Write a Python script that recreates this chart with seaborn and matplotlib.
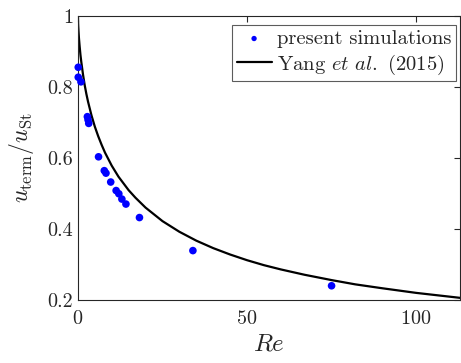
import numpy as np
import pandas as pd
import matplotlib
matplotlib.use("Agg")
import matplotlib.pyplot as plt
import seaborn as sns

# simulation points
sim_re = [0.1, 0.1, 0.9, 2.8, 3.0, 3.2, 6.1, 7.8, 8.3, 9.7, 11.3, 12.1, 13.0, 14.2, 18.2, 34.0, 75.0]
sim_u = [0.855, 0.827, 0.814, 0.716, 0.707, 0.697, 0.603, 0.564, 0.557, 0.532, 0.508, 0.499,
         0.484, 0.470, 0.432, 0.339, 0.240]

# Yang et al. (2015) curve, read at a set of Re values
yang_re = [0, 0.01, 0.05, 0.1, 0.2, 0.3, 0.5, 0.75, 1, 1.5, 2, 2.5, 3, 4, 5, 6, 7, 8, 10, 12,
           15, 17, 20, 25, 30, 35, 40, 45, 50, 55, 60, 67, 75, 82, 90, 100, 113]
yang_u = [1.0, 0.994, 0.981, 0.970, 0.953, 0.938, 0.915, 0.890, 0.870, 0.835, 0.805, 0.780,
          0.758, 0.720, 0.688, 0.661, 0.637, 0.615, 0.578, 0.547, 0.509, 0.488, 0.460, 0.422,
          0.392, 0.367, 0.346, 0.328, 0.312, 0.298, 0.286, 0.271, 0.256, 0.244, 0.233, 0.220,
          0.206]

sns.set_style("white")
plt.rcParams['font.family'] = 'serif'
plt.rcParams['font.serif'] = ['cmr10']
plt.rcParams['mathtext.fontset'] = 'cm'
plt.rcParams['axes.formatter.use_mathtext'] = True

sim = pd.DataFrame({'Re': sim_re, 'u': sim_u})
yang = pd.DataFrame({'Re': yang_re, 'u': yang_u})

fig = plt.figure(figsize=(4.61, 3.63), dpi=100)
ax = fig.add_axes([0.169, 0.1736, 0.829, 0.783])

sns.scatterplot(data=sim, x='Re', y='u', ax=ax, color=(0, 0, 1), s=30, edgecolor='none',
                label='present simulations', zorder=3, clip_on=False)
sns.lineplot(data=yang, x='Re', y='u', ax=ax, color='black', linewidth=1.6,
             label=r'Yang $\it{et\ al.}$ (2015)', zorder=2)

ax.set_xlim(0, 113)
ax.set_ylim(0.2, 1)
ax.set_xticks([0, 50, 100])
ax.set_yticks([0.2, 0.4, 0.6, 0.8, 1])
ax.set_yticklabels(['0.2', '0.4', '0.6', '0.8', '1'])
ax.set_xlabel(r'$Re$', fontsize=18, labelpad=4)
ax.set_ylabel(r'$u_\mathrm{term}/u_\mathrm{St}$', fontsize=17, labelpad=8)
ax.tick_params(direction='in', length=4, labelsize=14.5, top=True, right=True, color='0.15')
ax.tick_params(axis='x', pad=7)
for s in ax.spines.values():
    s.set_color('0.15')
    s.set_linewidth(0.8)

leg = ax.legend(loc='upper right', bbox_to_anchor=(455.7 / 461, 1 - 25 / 363),
                bbox_transform=fig.transFigure, borderaxespad=0,
                fontsize=14.8, frameon=True, fancybox=False,
                edgecolor='0.2', handlelength=1.7, markerscale=0.7,
                handletextpad=0.25, borderpad=0.22, labelspacing=0.22)
leg.get_frame().set_linewidth(0.8)

fig.savefig('out.png', dpi=100)
